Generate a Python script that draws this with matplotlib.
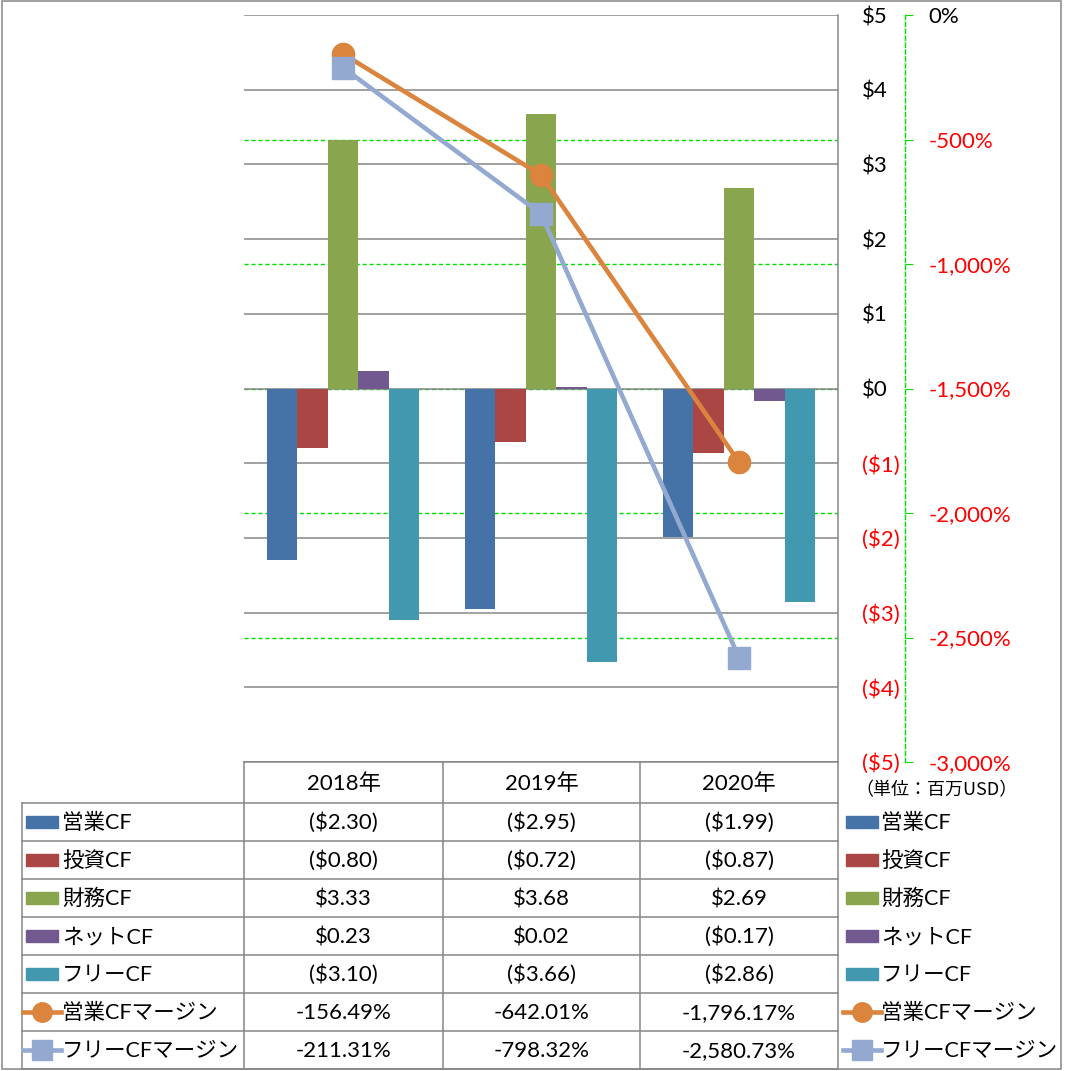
import matplotlib
matplotlib.use("Agg")
from matplotlib import pyplot as plt
from matplotlib.patches import Rectangle
from matplotlib.lines import Line2D
import numpy as np

plt.rcParams['font.family'] = ['Lato', 'Noto Sans CJK JP', 'DejaVu Sans']

# data (百万USD / %)
years = ['2018年', '2019年', '2020年']
op_cf = [-2.30, -2.95, -1.99]
inv_cf = [-0.80, -0.72, -0.87]
fin_cf = [3.33, 3.68, 2.69]
net_cf = [0.23, 0.02, -0.17]
free_cf = [-3.10, -3.66, -2.86]
op_margin = [-156.49, -642.01, -1796.17]
free_margin = [-211.31, -798.32, -2580.73]

bar_names = ['営業CF', '投資CF', '財務CF', 'ネットCF', 'フリーCF']
bar_series = [op_cf, inv_cf, fin_cf, net_cf, free_cf]
bar_colors = ['#4572A7', '#AA4643', '#89A54E', '#71588F', '#4198AF']
line_names = ['営業CFマージン', 'フリーCFマージン']
line_series = [op_margin, free_margin]
line_colors = ['#DB843D', '#93A9CF']
line_markers = ['o', 's']

W, H = 1067, 1071
GRID = '#868686'
GREEN = '#00E000'
RED = '#FF0000'
FS = 16


def rect(l, t, r, b):
    return [l / W, 1 - b / H, (r - l) / W, (b - t) / H]


def money(v, nd=2):
    s = f"${abs(v):.{nd}f}"
    return f"({s})" if v < 0 else s


def pct(v):
    return f"{v:,.2f}%"


def color_right_labels(axis, ticks):
    for tick, v in zip(axis.yaxis.get_major_ticks(), ticks):
        tick.label2.set_color(RED if v < 0 else 'black')


fig = plt.figure(figsize=(W / 100, H / 100), dpi=100)
PLOT = (244, 15, 838, 762)
x = np.arange(len(years))
usd_ticks = np.arange(-5, 6, 1)
pct_ticks = np.arange(-3000, 1, 500)

# secondary gridlines (behind bars)
ax_g = fig.add_axes(rect(*PLOT))
ax_g.set_xlim(-0.5, 2.5)
ax_g.set_ylim(-3000, 0)
ax_g.set_yticks(pct_ticks[1:-1])
ax_g.yaxis.grid(True, color=GREEN, lw=1.0, linestyle=(0, (3, 2)))
ax_g.tick_params(length=0, labelleft=False, labelbottom=False)
for s in ax_g.spines.values():
    s.set_visible(False)

# bars on primary axis
ax = fig.add_axes(rect(*PLOT))
ax.patch.set_visible(False)
ax.set_xlim(-0.5, 2.5)
ax.set_ylim(-5, 5)
w = 1 / 6.5
for i, (vals, col) in enumerate(zip(bar_series, bar_colors)):
    ax.bar(x + (i - 2) * w, vals, width=w, color=col, zorder=3)
ax.yaxis.tick_right()
ax.tick_params(axis='y', length=0, pad=17.5, labelsize=FS)
ax.tick_params(axis='x', length=0, labelbottom=False)
ax.set_yticks(usd_ticks, labels=[money(v, 0) for v in usd_ticks])
for t in ax.get_yticklabels():
    t.set_horizontalalignment('left')
ax.yaxis.grid(True, color=GRID, lw=1.1)
ax.set_axisbelow(True)
for k in ['left', 'top', 'bottom']:
    ax.spines[k].set_visible(False)
ax.spines['right'].set_color(GRID)
ax.spines['right'].set_linewidth(1.1)

# margin lines on secondary axis
ax2 = fig.add_axes(rect(*PLOT))
ax2.patch.set_visible(False)
ax2.set_xlim(-0.5, 2.5)
ax2.set_ylim(-3000, 0)
for vals, col, mk in zip(line_series, line_colors, line_markers):
    ax2.plot(x, vals, color=col, lw=3.3, marker=mk, ms=16, mfc=col,
             mec=col, mew=1, clip_on=False, zorder=4)
ax2.yaxis.tick_right()
ax2.tick_params(axis='y', direction='out', length=6, color=GREEN, pad=11,
                labelsize=FS)
ax2.tick_params(axis='x', length=0, labelbottom=False)
ax2.set_yticks(pct_ticks, labels=[pct(v).replace('.00', '') for v in pct_ticks])
for k in ['left', 'top', 'bottom']:
    ax2.spines[k].set_visible(False)
ax2.spines['right'].set_position(('outward', 48))
ax2.spines['right'].set_color(GREEN)
ax2.spines['right'].set_linestyle((0, (3, 2)))
ax2.spines['right'].set_linewidth(1.0)

# data table + legend, in pixel coordinates
axt = fig.add_axes([0, 0, 1, 1], zorder=10)
axt.set_xlim(0, W)
axt.set_ylim(H, 0)
axt.axis('off')
axt.patch.set_visible(False)

axt.add_patch(Rectangle((2, 0.5), 1059, 1068.5, fill=False, ec=GRID, lw=1.1))

cols = [244, 443, 640, 838]
top, hdr = 762, 803
rows = [hdr + 38 * i for i in range(8)]
rows[-1] = 1069
lk = dict(color=GRID, lw=1.1)
axt.plot([cols[0], cols[-1]], [top, top], **lk)
for r in rows:
    axt.plot([22, cols[-1]], [r, r], **lk)
for c in cols:
    axt.plot([c, c], [top, rows[-1]], **lk)
axt.plot([22, 22], [hdr, rows[-1]], **lk)

for j, yr in enumerate(years):
    axt.text((cols[j] + cols[j + 1]) / 2, (top + hdr) / 2 + 1, yr,
             ha='center', va='center', fontsize=FS)

labels = bar_names + line_names
values = [[money(v) for v in s] for s in bar_series] + \
         [[pct(v) for v in s] for s in line_series]
for i, (name, vals) in enumerate(zip(labels, values)):
    yc = (rows[i] + rows[i + 1]) / 2
    for j, s in enumerate(vals):
        axt.text((cols[j] + cols[j + 1]) / 2, yc + 1, s, ha='center',
                 va='center', fontsize=FS)
    for x0, tx in [(26, 62), (846, 881)]:
        if i < len(bar_names):
            axt.add_patch(Rectangle((x0, yc - 6), 32, 12, color=bar_colors[i]))
        else:
            k = i - len(bar_names)
            axt.add_line(Line2D([x0 - 3, x0 + 35], [yc, yc],
                                color=line_colors[k], lw=3.3))
            axt.plot([x0 + 16], [yc], marker=line_markers[k], ms=14,
                     color=line_colors[k])
        axt.text(tx, yc + 1, name, ha='left', va='center', fontsize=15.5)

axt.text(855, 790, '（単位：百万USD）', ha='left', va='center', fontsize=13,
         family=['Noto Sans CJK JP'])

fig.canvas.draw()
color_right_labels(ax, usd_ticks)
color_right_labels(ax2, pct_ticks)
fig.savefig('out.png', dpi=100)
